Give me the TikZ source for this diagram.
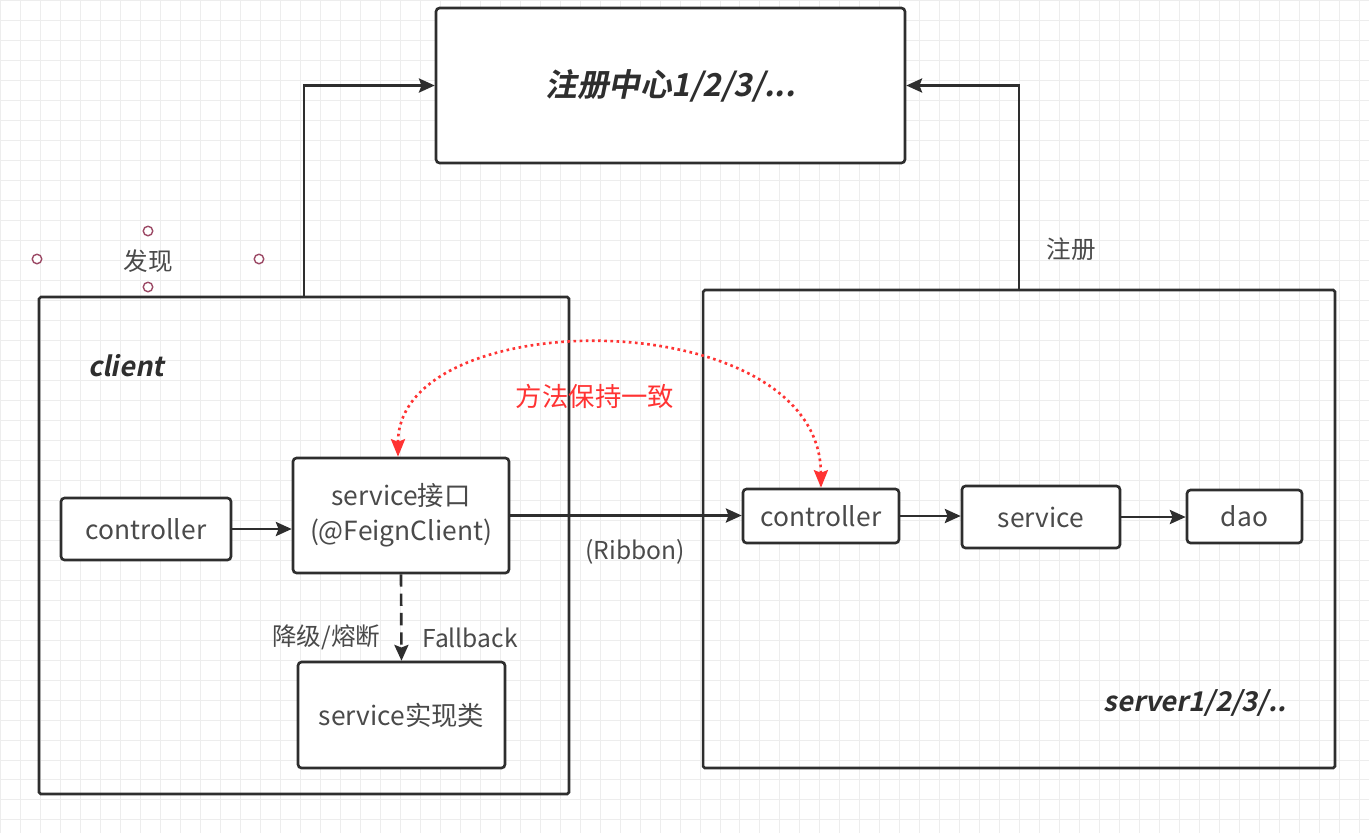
\documentclass[tikz,border=0pt]{standalone}
\usepackage{fontspec}
\setmainfont{Noto Sans CJK SC}
\newfontfamily\bolditfont{Noto Sans CJK SC Bold}[FakeSlant=0.2]
\usetikzlibrary{arrows.meta, positioning, calc}
\definecolor{inkgray}{HTML}{2E2E2E}
\definecolor{txtgray}{HTML}{4A4A4A}
\definecolor{linkred}{HTML}{FF3333}
\definecolor{handlered}{HTML}{9C4A66}

\begin{document}
\begin{tikzpicture}[
        x=0.02cm, y=-0.02cm,
        box/.style={rectangle, draw=inkgray, line width=1.5pt, rounded corners=2pt, fill=white, text=txtgray, align=center, inner sep=0pt, font=\fontsize{15}{20}\selectfont},
        frame/.style={rectangle, draw=inkgray, line width=1.5pt, rounded corners=1pt, inner sep=0pt},
        title/.style={text=inkgray, font=\bolditfont\fontsize{15.5}{20}\selectfont},
        plain/.style={text=txtgray, font=\fontsize{14}{18}\selectfont, inner sep=1pt},
        handle/.style={circle, draw=handlered, line width=0.8pt, fill=white, inner sep=0pt, minimum size=0.19cm},
        arrow/.style={draw=inkgray, line width=1.5pt, -{Stealth[length=9pt, width=8pt, inset=1.5pt]}},
        fallback/.style={arrow, dash pattern=on 7pt off 4pt},
        samelink/.style={draw=linkred, line width=1.5pt, dotted, {Stealth[length=10pt, width=8pt, inset=1.5pt]}-{Stealth[length=10pt, width=8pt, inset=1.5pt]}}
    ]
    \useasboundingbox (0,0) rectangle (1369,833);
    \fill[white] (0,0) rectangle (1369,833);
    \draw[black!7, line width=0.4pt, step=0.4cm] (0,0) grid (1369,833);

    % --- REGISTRY ---
    \node (reg) [box, minimum width=9.38cm, minimum height=3.1cm, text=inkgray, font=\bolditfont\fontsize{18}{22}\selectfont] at (670.5,85.5) {注册中心1/2/3/...};

    % --- CLIENT ---
    \node (client) [frame, minimum width=10.6cm, minimum height=9.94cm] at (304,545.5) {};
    \node (clientname) [title] at (126,366) {client};
    \node (ctrlC) [box, minimum width=3.4cm, minimum height=1.24cm] at (146,529) {controller};
    \node (feign) [box, minimum width=4.32cm, minimum height=2.3cm] at (401,515.5) {service接口\\(@FeignClient)};
    \node (impl) [box, minimum width=4.14cm, minimum height=2.12cm] at (401.5,715) {service实现类};

    % --- SERVER ---
    \node (server) [frame, minimum width=12.64cm, minimum height=9.56cm] at (1019,529) {};
    \node (servername) [title] at (1195,703) {server1/2/3/..};
    \node (ctrlS) [box, minimum width=3.12cm, minimum height=1.08cm] at (821,516) {controller};
    \node (svc) [box, minimum width=3.16cm, minimum height=1.24cm] at (1041,517) {service};
    \node (dao) [box, minimum width=2.3cm, minimum height=1.06cm] at (1244.5,516.5) {dao};

    % --- DISCOVER / REGISTER ---
    \node (discover) [plain] at (148,261) {发现};
    \node (h1) [handle] at (148,231) {};
    \node (h2) [handle] at (37,259) {};
    \node (h3) [handle] at (259,259) {};
    \node (h4) [handle] at (148,287) {};
    \node (register) [plain] at (1071,249) {注册};

    \draw [arrow] (client.north) |- (reg.west);
    \draw [arrow] (server.north) |- (reg.east);

    % --- CALLS ---
    \draw [arrow] (ctrlC.east) -- (ctrlC.east -| feign.west);
    \draw [arrow] (feign.east) -- (feign.east -| ctrlS.west)
        node (ribbon) [plain, pos=0.54, below=0.42cm] {(Ribbon)};
    \draw [arrow] (ctrlS.east) -- (ctrlS.east -| svc.west);
    \draw [arrow] (svc.east) -- (svc.east -| dao.west);

    \draw [fallback] (feign.south) -- (impl.north)
        node (degrade) [plain, pos=0.73, left=0.36cm] {降级/熔断}
        node (fb) [plain, pos=0.73, right=0.36cm] {Fallback};

    % --- SAME METHODS ---
    \draw [samelink] ([xshift=-0.06cm]feign.north) .. controls (398,302) and (820,302) .. (ctrlS.north);
    \node (same) [plain, text=linkred, font=\fontsize{15}{18}\selectfont] at (595,396) {方法保持一致};

\end{tikzpicture}
\end{document}
